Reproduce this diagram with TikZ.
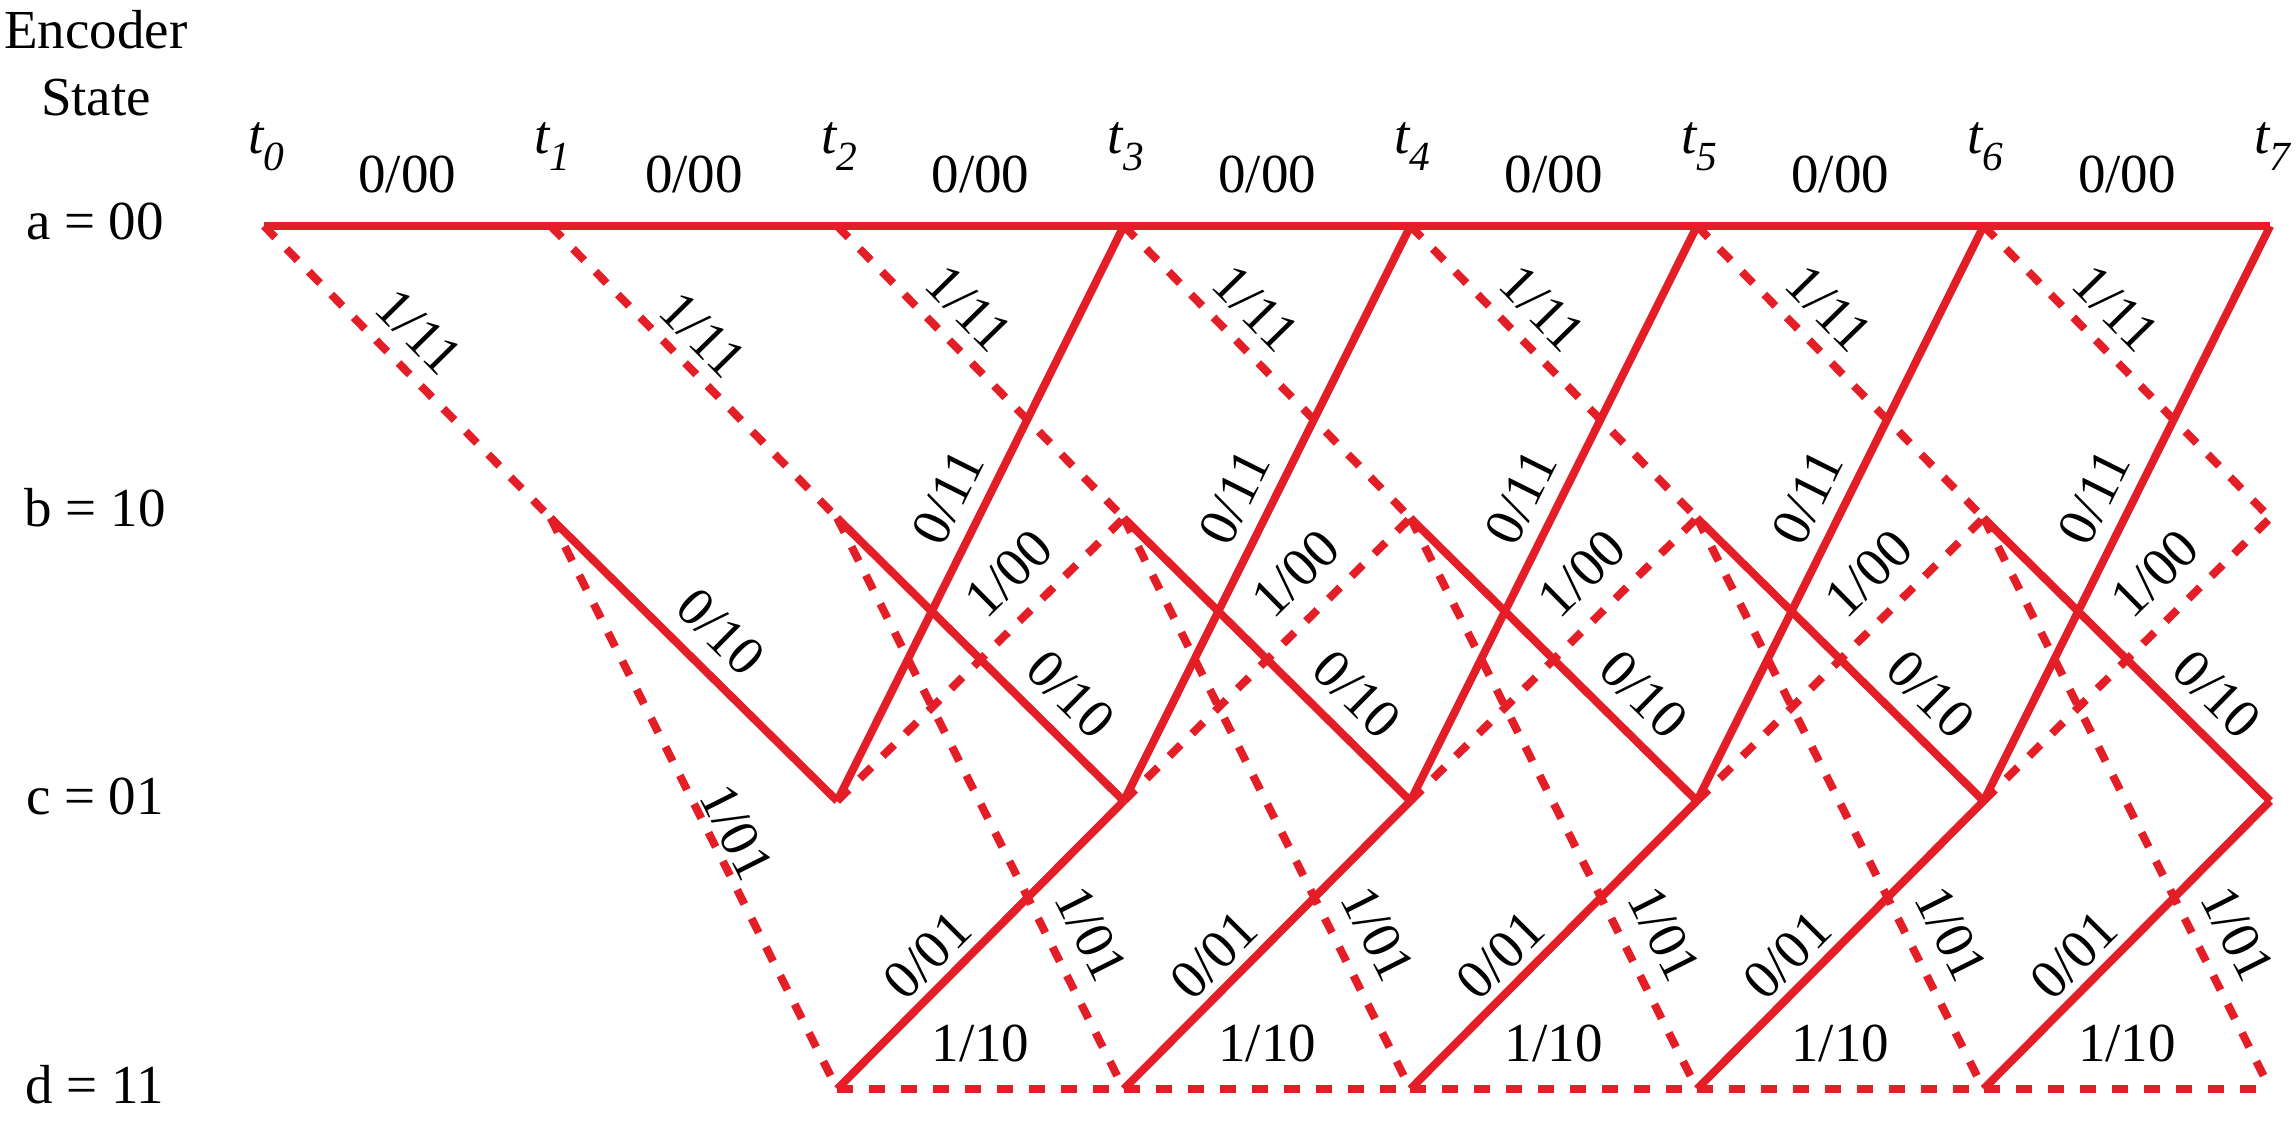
\documentclass[tikz,border=0pt]{standalone}
\usepackage{fontspec}
\setmainfont{Liberation Serif}
\definecolor{trellisred}{RGB}{228,30,38}
\begin{document}
\begin{tikzpicture}[x=0.5pt,y=-0.5pt,
  solidedge/.style={draw=trellisred,line width=4pt},
  dashededge/.style={draw=trellisred,line width=4pt,dash pattern=on 8pt off 8pt},
  lbl/.style={font=\fontsize{27.5}{33}\selectfont,inner sep=0pt,sloped},
  rowlbl/.style={font=\fontsize{27.5}{33}\selectfont,inner sep=0pt},
  timelbl/.style={font=\fontsize{27.5}{33}\selectfont\itshape,inner sep=0pt,anchor=base}]
\useasboundingbox (0,0) rectangle (2296,1124);
% header
\node[rowlbl,align=center,anchor=north,font=\fontsize{27.5}{33.5}\selectfont] (hdr) at (96,10) {Encoder\\State};
\node[rowlbl] (la) at (95,221) {a = 00};
\node[rowlbl] (lb) at (95,508) {b = 10};
\node[rowlbl] (lc) at (95,796) {c = 01};
\node[rowlbl] (ld) at (95,1085) {d = 11};
% states
\foreach \i in {0,...,7}{
  \pgfmathsetmacro\xx{264+286.6*\i}
  \coordinate (a\i) at (\xx,226);
  \coordinate (b\i) at (\xx,518);
  \coordinate (c\i) at (\xx,801);
  \coordinate (d\i) at (\xx,1089);
  \node[timelbl] (t\i) at (\xx+2,153) {t\raisebox{-8.5pt}{\fontsize{20.7}{21}\selectfont\itshape \i}};
}
% dashed branches (input 1)
\draw[dashededge] (a0) -- node[lbl,pos=0.45,above=7pt] {1/11} (b1);
\draw[dashededge] (a1) -- node[lbl,pos=0.45,above=5pt] {1/11} (b2);
\draw[dashededge] (b1) -- node[lbl,pos=0.57,above=1.5pt] {1/01} (d2);
\foreach \i [evaluate=\i as \j using int(\i+1)] in {2,...,6}{
  \draw[dashededge] (a\i) -- node[lbl,pos=0.37,above=7pt] {1/11} (b\j);
  \draw[dashededge] (b\i) -- node[lbl,pos=0.76,above=9pt] {1/01} (d\j);
  \draw[dashededge] (c\i) -- node[lbl,pos=0.7,above=9.5pt] {1/00} (b\j);
  \draw[dashededge] (d\i) -- node[lbl,midway,above=11.5pt] {1/10} (d\j);
}
% solid branches (input 0)
\foreach \i [evaluate=\i as \j using int(\i+1)] in {0,...,6}{
  \draw[solidedge] (a\i) -- node[lbl,midway,above=14.5pt] {0/00} (a\j);
}
\draw[solidedge] (b1) -- node[lbl,pos=0.5,above=8pt] {0/10} (c2);
\foreach \i [evaluate=\i as \j using int(\i+1)] in {2,...,6}{
  \draw[solidedge] (b\i) -- node[lbl,pos=0.72,above=8pt] {0/10} (c\j);
  \draw[solidedge] (c\i) -- node[lbl,pos=0.5,above=7pt] {0/11} (a\j);
  \draw[solidedge] (d\i) -- node[lbl,pos=0.39,above=4pt] {0/01} (c\j);
}
\end{tikzpicture}
\end{document}
